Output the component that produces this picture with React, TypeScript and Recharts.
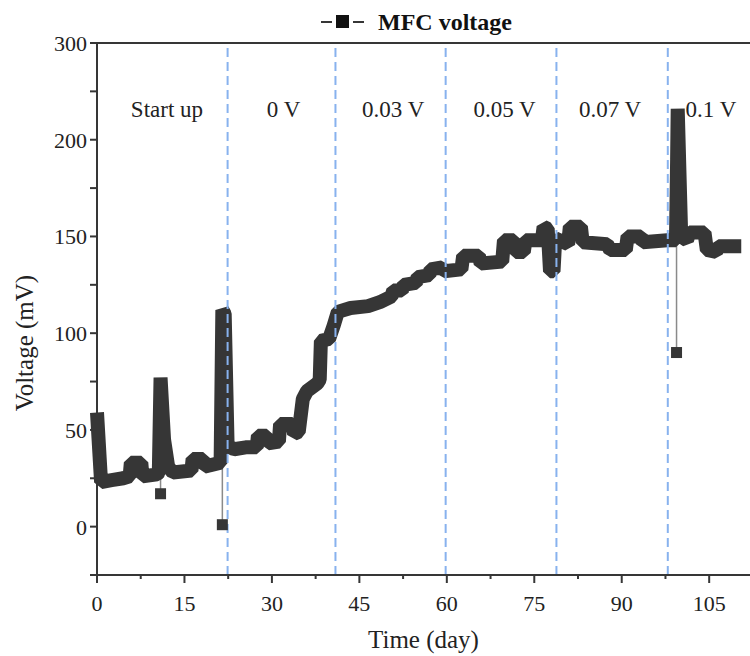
import React from 'react';
import { LineChart, Line, XAxis, YAxis, ReferenceLine, ReferenceDot } from 'recharts';

// main voltage trace (day, mV)
const days = [
  0, 0.7, 2.5, 4.5, 5.6, 5.8, 7.6, 7.8, 10.3, 10.6, 10.9, 11.5, 12.2, 13,
  16.2, 16.4, 18.2, 18.4, 21.2, 21.5, 21.9, 22.4, 23.5, 25.5, 27.4, 27.6, 29.1, 29.3,
  31.2, 31.4, 33.5, 33.8, 34.6, 35.3, 36, 37.8, 38.2, 38.4, 39.8, 40.6, 41.3, 43.5,
  46.5, 48.5, 50.5, 50.8, 52.3, 52.6, 54.7, 55, 57, 57.2, 59.2, 59.5, 62.5, 62.8,
  65.5, 65.8, 69.5, 69.8, 71.5, 71.8, 73.2, 73.5, 76.3, 76.6, 77.3, 77.7, 78.3, 78.6,
  80.8, 81.1, 83, 83.3, 87.5, 88, 90.7, 91, 93.3, 93.6, 97.8, 99.3, 99.5, 99.6,
  100.2, 101.2, 101.6, 104.2, 104.6, 106.2, 106.6, 110.5,
];
const voltage = [
  59, 23, 24, 25, 26, 33, 33, 26, 27, 28, 77, 45, 31, 28,
  29, 35, 35, 31, 33, 112, 110, 42, 40, 41, 41, 47, 47, 43,
  44, 53, 53, 48, 49, 66, 70, 74, 76, 96, 97, 104, 111, 113,
  114, 116, 119, 122, 122, 125, 126, 129, 130, 133, 134, 132, 133, 140,
  140, 136, 137, 148, 148, 142, 142, 148, 148, 155, 154, 132, 132, 149,
  146, 155, 155, 147, 146, 143, 143, 150, 150, 147, 148, 148, 190, 216,
  150, 148, 152, 152, 143, 142, 145, 145,
];

// single low readings joined to the trace by a thin line
const dipDays = [10.9, 21.5, 99.4];
const dipFrom = [27, 32, 148];
const dipTo = [17, 1, 90];

// stage boundaries and stage names
const stageBounds = [22.4, 40.9, 59.8, 78.8, 97.9];
const stageNames = ['Start up', '0 V', '0.03 V', '0.05 V', '0.07 V', '0.1 V'];
const stageCenters = [12, 32, 50.8, 69.9, 88, 105.3];

const xTicks = [0, 7.5, 15, 22.5, 30, 37.5, 45, 52.5, 60, 67.5, 75, 82.5, 90, 97.5, 105];
const yTicks = [-25, 0, 25, 50, 75, 100, 125, 150, 175, 200, 225, 250];
const yLabels: Record<number, string> = { 0: '0', 50: '50', 100: '100', 150: '150', 200: '200', 250: '300' };

const mainData = days.map((d, i) => ({ day: d, v: voltage[i] }));
const dipData = dipDays.map((d, i) => [
  { day: d, v: dipFrom[i] },
  { day: d, v: dipTo[i] },
]);

const INK = '#363636';
const FONT = '"Liberation Serif", "Times New Roman", serif';

const XTick = (props: any) => {
  const { x, y, payload } = props;
  const major = payload.value % 15 === 0;
  return (
    <g>
      <line x1={x} x2={x} y1={y} y2={y + (major ? 8 : 4)} stroke={INK} strokeWidth={2} />
      {major && (
        <text x={x} y={y + 36} textAnchor="middle" fontSize={22} fill="#222" fontFamily={FONT}>
          {payload.value}
        </text>
      )}
    </g>
  );
};

const YTick = (props: any) => {
  const { x, y, payload } = props;
  const label = yLabels[payload.value];
  return (
    <g>
      <line x1={x - 7} x2={x} y1={y} y2={y} stroke={INK} strokeWidth={2} />
      {label && (
        <text x={x - 10} y={y + 8} textAnchor="end" fontSize={22} fill="#222" fontFamily={FONT}>
          {label}
        </text>
      )}
    </g>
  );
};

const DipDot = (props: any) => {
  const { cx, cy, index } = props;
  if (index !== 1) return <g key={`dd-${index}`} />;
  return <rect key={`dd-${index}`} x={cx - 5.5} y={cy - 5.5} width={11} height={11} fill={INK} />;
};

export default function App() {
  return (
    <div style={{ position: 'absolute', left: 0, top: 0, width: 750, height: 656, background: '#fff', fontFamily: FONT }}>
      <LineChart width={750} height={656} data={mainData} margin={{ top: 43, right: 0, bottom: 0, left: 0 }}>
        <XAxis
          dataKey="day"
          type="number"
          domain={[0, 112]}
          ticks={xTicks}
          interval={0}
          height={81}
          tickSize={0}
          tickMargin={0}
          tick={<XTick />}
          axisLine={{ stroke: INK, strokeWidth: 2 }}
          label={{ value: 'Time (day)', position: 'insideBottom', offset: 8, fontSize: 25, fill: '#222', fontFamily: FONT }}
        />
        <YAxis
          type="number"
          domain={[-25, 250]}
          ticks={yTicks}
          interval={0}
          width={97}
          tickSize={0}
          tickMargin={0}
          tick={<YTick />}
          axisLine={{ stroke: INK, strokeWidth: 2 }}
          label={{
            content: () => (
              <text x={33} y={343} transform="rotate(-90 33 343)" textAnchor="middle" fontSize={25} fill="#222" fontFamily={FONT}>
                Voltage (mV)
              </text>
            ),
          }}
        />
        <ReferenceLine y={250} stroke={INK} strokeWidth={2} />
        {dipData.map((dd, i) => (
          <Line
            key={`dip-${i}`}
            data={dd}
            dataKey="v"
            stroke="#8a8a8a"
            strokeWidth={1.5}
            dot={<DipDot />}
            isAnimationActive={false}
          />
        ))}
        <Line
          dataKey="v"
          type="linear"
          stroke={INK}
          strokeWidth={14}
          strokeLinejoin="bevel"
          dot={false}
          isAnimationActive={false}
        />
        {stageBounds.map((b) => (
          <ReferenceLine key={`sb-${b}`} x={b} stroke="#88b2ee" strokeWidth={2} strokeDasharray="9 5" />
        ))}
        {stageNames.map((n, i) => (
          <ReferenceDot
            key={`sn-${n}`}
            x={stageCenters[i]}
            y={216}
            r={0}
            fill="none"
            stroke="none"
            label={{ value: n, position: 'center', fontSize: 23, fill: '#222', fontFamily: FONT }}
          />
        ))}
      </LineChart>
      <div style={{ position: 'absolute', left: 321, top: 8, display: 'flex', alignItems: 'center', height: 28 }}>
        <svg width={44} height={20}>
          <line x1={0} x2={11} y1={10} y2={10} stroke={INK} strokeWidth={2} />
          <rect x={15} y={3} width={13} height={13} fill="#111" />
          <line x1={32} x2={43} y1={10} y2={10} stroke={INK} strokeWidth={2} />
        </svg>
        <span style={{ marginLeft: 13, fontWeight: 'bold', fontSize: 24, color: '#111', lineHeight: '28px' }}>MFC voltage</span>
      </div>
    </div>
  );
}
